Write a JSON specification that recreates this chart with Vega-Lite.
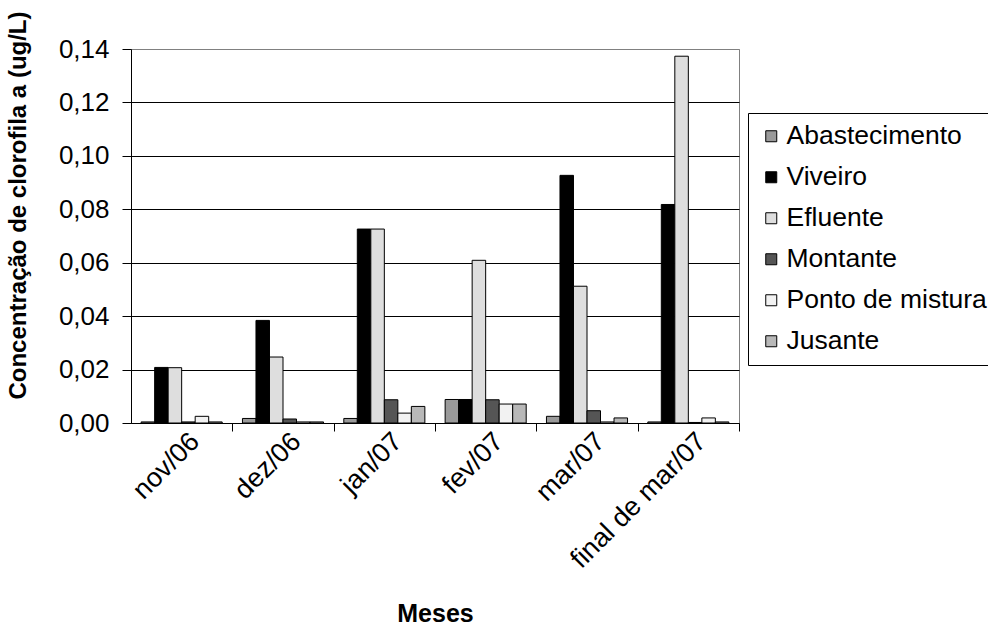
{
  "$schema": "https://vega.github.io/schema/vega-lite/v6.json",
  "width": 608,
  "height": 374,
  "autosize": {"type": "none"},
  "padding": {"left": 131, "top": 49, "right": 249, "bottom": 214},
  "background": "white",
  "config": {
    "font": "Liberation Sans",
    "view": {"stroke": "#808080", "strokeWidth": 1}
  },
  "data": {
    "values": [
      {"mes": "nov/06", "ponto": "Abastecimento", "clorofila": 0.0004},
      {"mes": "nov/06", "ponto": "Viveiro", "clorofila": 0.0208},
      {"mes": "nov/06", "ponto": "Efluente", "clorofila": 0.0207},
      {"mes": "nov/06", "ponto": "Montante", "clorofila": 0.0004},
      {"mes": "nov/06", "ponto": "Ponto de mistura", "clorofila": 0.0025},
      {"mes": "nov/06", "ponto": "Jusante", "clorofila": 0.0004},
      {"mes": "dez/06", "ponto": "Abastecimento", "clorofila": 0.0017},
      {"mes": "dez/06", "ponto": "Viveiro", "clorofila": 0.0384},
      {"mes": "dez/06", "ponto": "Efluente", "clorofila": 0.0247},
      {"mes": "dez/06", "ponto": "Montante", "clorofila": 0.0015},
      {"mes": "dez/06", "ponto": "Ponto de mistura", "clorofila": 0.0004},
      {"mes": "dez/06", "ponto": "Jusante", "clorofila": 0.0004},
      {"mes": "jan/07", "ponto": "Abastecimento", "clorofila": 0.0017},
      {"mes": "jan/07", "ponto": "Viveiro", "clorofila": 0.0726},
      {"mes": "jan/07", "ponto": "Efluente", "clorofila": 0.0726},
      {"mes": "jan/07", "ponto": "Montante", "clorofila": 0.0087},
      {"mes": "jan/07", "ponto": "Ponto de mistura", "clorofila": 0.0037},
      {"mes": "jan/07", "ponto": "Jusante", "clorofila": 0.0062},
      {"mes": "fev/07", "ponto": "Abastecimento", "clorofila": 0.0088},
      {"mes": "fev/07", "ponto": "Viveiro", "clorofila": 0.0088},
      {"mes": "fev/07", "ponto": "Efluente", "clorofila": 0.0609},
      {"mes": "fev/07", "ponto": "Montante", "clorofila": 0.0087},
      {"mes": "fev/07", "ponto": "Ponto de mistura", "clorofila": 0.0071},
      {"mes": "fev/07", "ponto": "Jusante", "clorofila": 0.0071},
      {"mes": "mar/07", "ponto": "Abastecimento", "clorofila": 0.0025},
      {"mes": "mar/07", "ponto": "Viveiro", "clorofila": 0.0927},
      {"mes": "mar/07", "ponto": "Efluente", "clorofila": 0.0512},
      {"mes": "mar/07", "ponto": "Montante", "clorofila": 0.0046},
      {"mes": "mar/07", "ponto": "Ponto de mistura", "clorofila": 0.0004},
      {"mes": "mar/07", "ponto": "Jusante", "clorofila": 0.0019},
      {"mes": "final de mar/07", "ponto": "Abastecimento", "clorofila": 0.0004},
      {"mes": "final de mar/07", "ponto": "Viveiro", "clorofila": 0.0818},
      {"mes": "final de mar/07", "ponto": "Efluente", "clorofila": 0.1373},
      {"mes": "final de mar/07", "ponto": "Montante", "clorofila": 0.0002},
      {"mes": "final de mar/07", "ponto": "Ponto de mistura", "clorofila": 0.0019},
      {"mes": "final de mar/07", "ponto": "Jusante", "clorofila": 0.0004}
    ]
  },
  "mark": {"type": "bar", "stroke": "black", "strokeWidth": 1},
  "encoding": {
    "x": {
      "field": "mes",
      "type": "nominal",
      "sort": ["nov/06", "dez/06", "jan/07", "fev/07", "mar/07", "final de mar/07"],
      "scale": {"paddingInner": 0.2, "paddingOuter": 0.1},
      "axis": {
        "title": "Meses",
        "titleFontSize": 25,
        "titleFontWeight": "bold",
        "titleColor": "black",
        "titleY": 190,
        "titleBaseline": "middle",
        "labelAngle": -45,
        "labelAlign": "right",
        "labelBaseline": "middle",
        "labelFontSize": 27,
        "labelColor": "black",
        "labelPadding": 6,
        "bandPosition": 1,
        "tickOffset": 10.13,
        "labelOffset": 3,
        "tickSize": 8,
        "tickColor": "black",
        "domainColor": "black",
        "grid": false
      }
    },
    "xOffset": {
      "field": "ponto",
      "type": "nominal",
      "sort": ["Abastecimento", "Viveiro", "Efluente", "Montante", "Ponto de mistura", "Jusante"],
      "scale": {"paddingInner": 0, "paddingOuter": 0}
    },
    "y": {
      "field": "clorofila",
      "type": "quantitative",
      "scale": {"domain": [0, 0.14], "nice": false},
      "axis": {
        "title": "Concentração de clorofila a (ug/L)",
        "titleFontSize": 24,
        "titleFontWeight": "bold",
        "titleColor": "black",
        "titleAngle": -90,
        "titleX": -113,
        "titleY": 156,
        "titleAlign": "center",
        "titleBaseline": "middle",
        "values": [0, 0.02, 0.04, 0.06, 0.08, 0.1, 0.12, 0.14],
        "labelExpr": "replace(format(datum.value, '.2f'), '.', ',')",
        "labelFontSize": 26,
        "labelColor": "black",
        "labelPadding": 13,
        "tickSize": 9,
        "tickColor": "black",
        "domainColor": "black",
        "grid": true,
        "gridColor": {"condition": {"test": "datum.value >= 0.139", "value": "#808080"}, "value": "black"}
      }
    },
    "fill": {
      "field": "ponto",
      "type": "nominal",
      "scale": {
        "domain": ["Abastecimento", "Viveiro", "Efluente", "Montante", "Ponto de mistura", "Jusante"],
        "range": ["#9a9a9a", "#000000", "#dedede", "#555555", "#f2f2f2", "#b8b8b8"]
      },
      "legend": {
        "title": null,
        "orient": "none",
        "legendX": 617,
        "legendY": 64,
        "strokeColor": "black",
        "fillColor": "white",
        "padding": 10,
        "labelFontSize": 26.5,
        "labelColor": "black",
        "labelLimit": 400,
        "labelOffset": 2,
        "symbolType": "square",
        "symbolSize": 121,
        "symbolStrokeColor": "black",
        "symbolStrokeWidth": 1,
        "rowPadding": 14
      }
    }
  }
}
